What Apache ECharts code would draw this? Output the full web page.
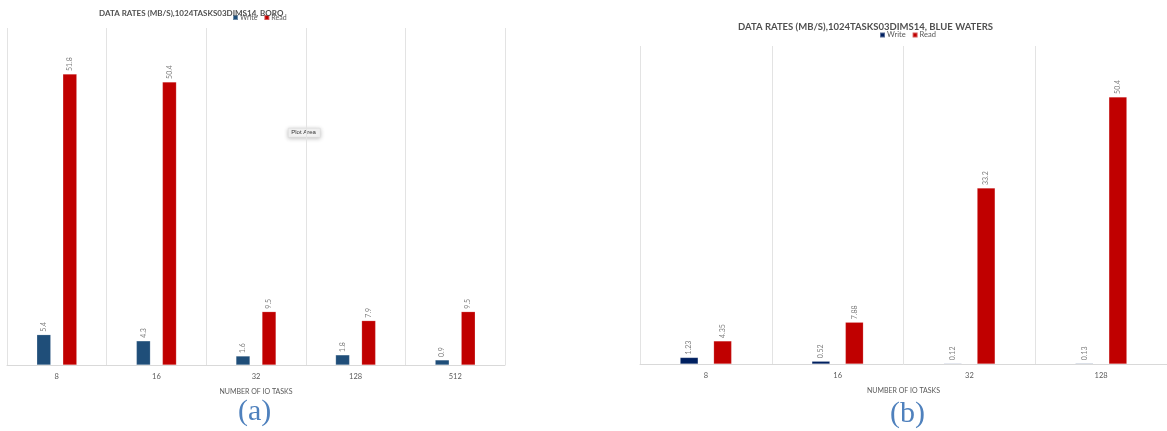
<!DOCTYPE html>
<html>
<head>
<meta charset="utf-8">
<script src="https://cdn.jsdelivr.net/npm/echarts@6/dist/echarts.min.js"></script>
<style>
  html, body { margin: 0; padding: 0; background: #ffffff; }
  #chart { width: 1167px; height: 431px; }
</style>
</head>
<body>
<div id="chart"></div>
<script>
// Data rates (MB/s) for 1024 tasks, 3D, 14 variables
const boroTasks = ['8', '16', '32', '128', '512'];
const boroWrite = [5.4, 4.3, 1.6, 1.8, 0.9];
const boroRead = [51.8, 50.4, 9.5, 7.9, 9.5];

const bwTasks = ['8', '16', '32', '128'];
const bwWrite = [1.23, 0.52, 0.12, 0.13];
const bwRead = [4.35, 7.88, 33.2, 50.4];

const TXT = '#595959';
const GRID_LINE = '#e3e3e3';
const READ_RED = '#c00000';
const BORO_BLUE = '#1f4e79';
const BW_NAVY = '#002060';
const FONT = 'Lato, "Open Sans", sans-serif';

function catAxis(gridIndex, cats) {
  return {
    type: 'category', gridIndex, data: cats,
    axisLine: { lineStyle: { color: '#d9d9d9' } },
    axisTick: { show: false },
    splitLine: { show: true, lineStyle: { color: GRID_LINE, width: 1 } },
    axisLabel: { color: TXT, fontSize: 7.5, fontFamily: FONT, margin: 8 },
    name: 'NUMBER OF IO TASKS', nameLocation: 'middle', nameGap: 23,
    nameTextStyle: { color: TXT, fontSize: 7, fontFamily: FONT }
  };
}
function valAxis(gridIndex) {
  return {
    type: 'value', gridIndex, min: 0, max: 60,
    show: false, splitLine: { show: false }
  };
}
function barSeries(name, idx, data, color, width) {
  return {
    name, type: 'bar', xAxisIndex: idx, yAxisIndex: idx, data,
    barWidth: width, barGap: '86%',
    itemStyle: { color, borderColor: 'rgba(255,255,255,0.35)', borderWidth: 0.5 },
    label: {
      show: true, position: 'top', rotate: 90, align: 'left', verticalAlign: 'middle',
      distance: 3, color: '#7f7f7f', fontSize: 7, fontFamily: FONT,
      formatter: p => String(p.value)
    }
  };
}

const chart = echarts.init(document.getElementById('chart'), null, { renderer: 'canvas' });
chart.setOption({
  animation: false,
  backgroundColor: '#ffffff',
  title: [
    { text: 'DATA RATES (MB/S),1024TASKS03DIMS14, BORO', left: 94, top: 4,
      textStyle: { color: '#505050', fontSize: 8, fontWeight: 'bold', fontFamily: FONT } },
    { text: 'DATA RATES (MB/S),1024TASKS03DIMS14, BLUE WATERS', left: 733, top: 17,
      textStyle: { color: '#505050', fontSize: 9.5, fontWeight: 'bold', fontFamily: FONT } }
  ],
  legend: [
    { left: 227, top: 9, itemWidth: 5, itemHeight: 5, itemGap: 6, icon: 'rect',
      textStyle: { color: TXT, fontSize: 7, fontFamily: FONT, padding: [0, 0, 0, -3] },
      data: [{ name: 'Write', itemStyle: { color: BORO_BLUE } },
             { name: 'Read', itemStyle: { color: READ_RED } }] },
    { left: 874, top: 26, itemWidth: 5, itemHeight: 5, itemGap: 6, icon: 'rect',
      textStyle: { color: TXT, fontSize: 7.5, fontFamily: FONT, padding: [0, 0, 0, -3] },
      data: [{ name: 'Write', itemStyle: { color: BW_NAVY } },
             { name: 'Read', itemStyle: { color: READ_RED } }] }
  ],
  grid: [
    { left: 7, top: 28, width: 498, height: 337 },
    { left: 640, top: 46, width: 532, height: 318 }
  ],
  xAxis: [catAxis(0, boroTasks), catAxis(1, bwTasks)],
  yAxis: [valAxis(0), valAxis(1)],
  series: [
    barSeries('Write', 0, boroWrite, BORO_BLUE, 14),
    barSeries('Read', 0, boroRead, READ_RED, 14),
    barSeries('Write', 1, bwWrite, BW_NAVY, 18),
    barSeries('Read', 1, bwRead, READ_RED, 18)
  ],
  graphic: [
    { type: 'text', left: 238, top: 397,
      style: { text: '(a)', fill: '#4f81bd', font: '30px "Liberation Serif", "DejaVu Serif", serif' } },
    { type: 'text', left: 890, top: 399,
      style: { text: '(b)', fill: '#4f81bd', font: '30px "Liberation Serif", "DejaVu Serif", serif' } },
    { type: 'group', left: 288, top: 128, children: [
      { type: 'rect', shape: { x: 0, y: 0, width: 32, height: 9 },
        style: { fill: '#f4f4f4', stroke: '#d8d8d8', lineWidth: 0.5,
                 shadowBlur: 4, shadowColor: 'rgba(0,0,0,0.25)', shadowOffsetY: 1 } },
      { type: 'text', x: 3, y: 1.5,
        style: { text: 'Plot Area', fill: '#333333', font: '6px "Liberation Sans", sans-serif' } }
    ] }
  ]
});
</script>
</body>
</html>
